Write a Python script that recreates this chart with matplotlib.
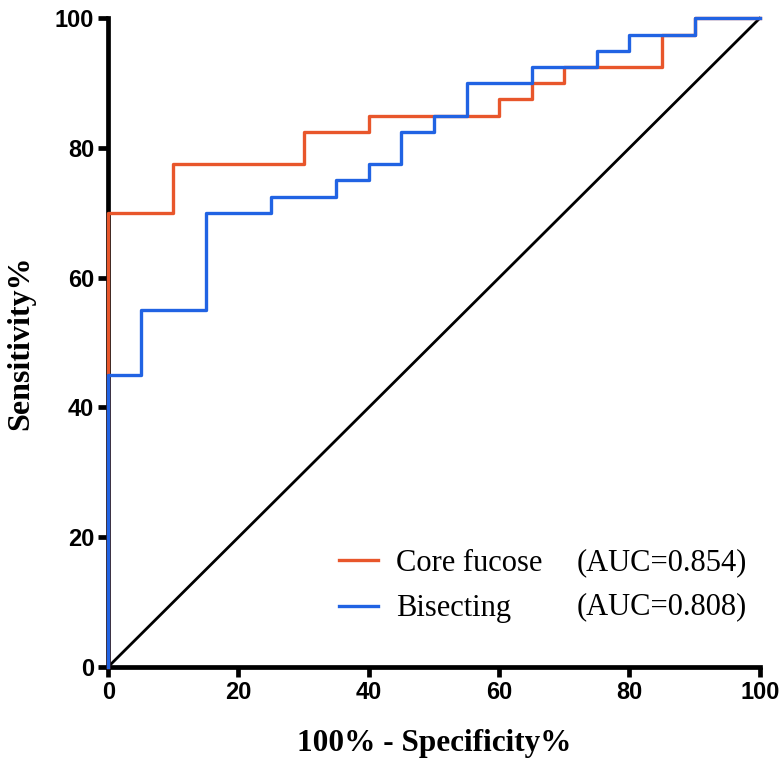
import matplotlib
matplotlib.use("Agg")
import matplotlib.pyplot as plt
from matplotlib.lines import Line2D

# ROC points (100% - specificity, sensitivity), drawn as steps
core_fpr = [0, 0, 10, 30, 40, 60, 65, 70, 85, 90, 100]
core_tpr = [0, 70, 77.5, 82.5, 85, 87.5, 90, 92.5, 97.5, 100, 100]
bis_fpr = [0, 0, 5, 15, 25, 35, 40, 45, 50, 55, 65, 75, 80, 90, 100]
bis_tpr = [0, 45, 55, 70, 72.5, 75, 77.5, 82.5, 85, 90, 92.5, 95, 97.5, 100, 100]
names = ["Core fucose", "Bisecting"]
aucs = [0.854, 0.808]
ticks = [0, 20, 40, 60, 80, 100]

orange = "#E8562B"
blue = "#2163E3"

fig = plt.figure(figsize=(7.84, 7.63), dpi=100)
ax = fig.add_axes([0.138, 0.126, 0.831, 0.850])

ax.plot([0, 100], [0, 100], color="black", lw=2, zorder=2, clip_on=False)
ax.plot(core_fpr, core_tpr, drawstyle="steps-post", color=orange, lw=2.4, zorder=4, clip_on=False)
ax.plot(bis_fpr, bis_tpr, drawstyle="steps-post", color=blue, lw=2.4, zorder=5, clip_on=False)

ax.set_xlim(0, 100)
ax.set_ylim(0, 100)
ax.set_xticks(ticks)
ax.set_yticks(ticks)
ax.set_xticklabels([str(t) for t in ticks], fontsize=17, fontweight="bold", family="Liberation Sans")
ax.set_yticklabels([str(t) for t in ticks], fontsize=17, fontweight="bold", family="Liberation Sans")
for s in ["top", "right"]:
    ax.spines[s].set_visible(False)
for s in ["left", "bottom"]:
    ax.spines[s].set_linewidth(3.4)
ax.tick_params(direction="out", length=7, width=3.4, pad=3)

ax.set_xlabel("100% - Specificity%", fontsize=22.5, fontweight="bold", family="Liberation Serif", labelpad=18)
ax.set_ylabel("Sensitivity%", fontsize=23, fontweight="bold", family="Liberation Serif", labelpad=14)

handles = [Line2D([], [], color=orange, lw=2.4), Line2D([], [], color=blue, lw=2.4)]
leg = ax.legend(handles, names, loc="upper left", bbox_to_anchor=(0.355, 0.182),
                frameon=False, prop={"family": "Liberation Serif", "size": 22},
                handlelength=1.25, handletextpad=0.6, labelspacing=0.54, borderaxespad=0,
                borderpad=0)
for i, a in enumerate(aucs):
    ax.text(0.719, 0.160 - i * 0.068, f"(AUC={a:.3f})", transform=ax.transAxes,
            fontsize=22, family="Liberation Serif", va="center", ha="left")

fig.savefig("out.png", dpi=100)
